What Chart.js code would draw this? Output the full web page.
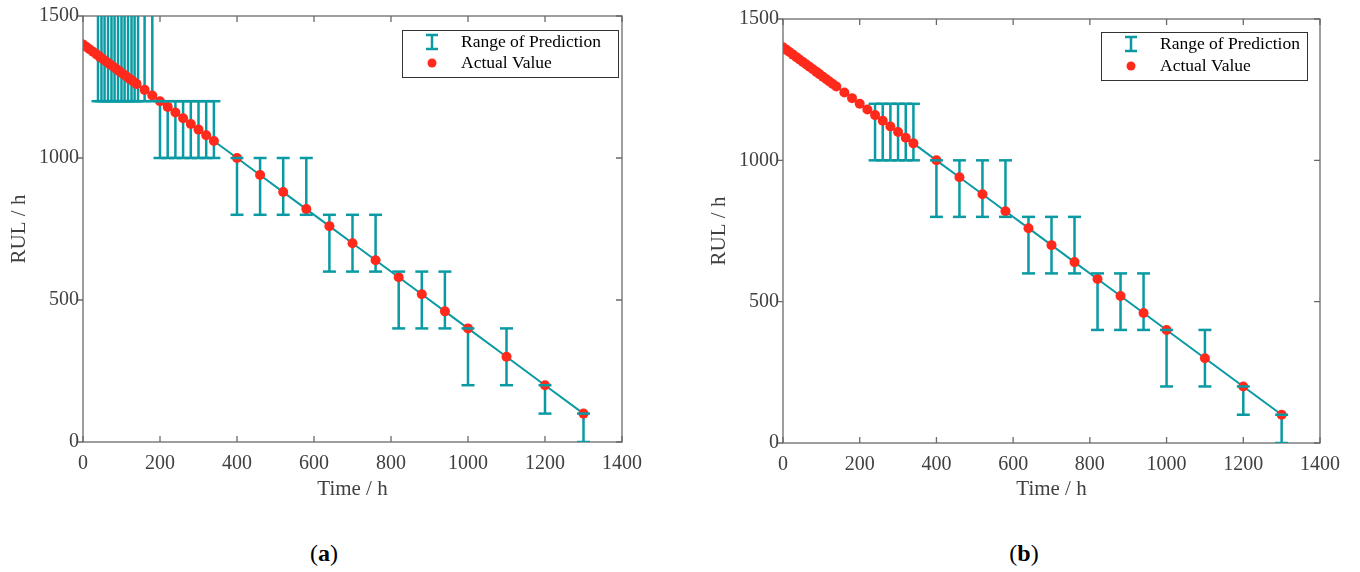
<!DOCTYPE html>
<html>
<head>
<meta charset="utf-8">
<script src="https://cdn.jsdelivr.net/npm/chart.js@4.4.1/dist/chart.umd.min.js"></script>
<style>
  body { margin: 0; background: #fff; width: 1360px; height: 572px; position: relative; overflow: hidden; font-family: "Liberation Serif", serif; }
  .box { position: absolute; top: 0; width: 680px; height: 520px; }
  .cap { position: absolute; top: 540px; width: 60px; text-align: center; font-size: 24px; color: #000; }
</style>
</head>
<body>
<div class="box" style="left:0"><canvas id="chartA" width="680" height="520"></canvas></div>
<div class="box" style="left:680px"><canvas id="chartB" width="680" height="520"></canvas></div>
<div class="cap" style="left:294px">(<b>a</b>)</div>
<div class="cap" style="left:994px">(<b>b</b>)</div>
<script>
// actual value: time (h) and RUL (h)
const timeH = [0, 9, 17, 26, 35, 43, 52, 61, 69, 78, 87, 95, 104, 113, 121, 130, 139,
  160, 180, 200, 220, 240, 260, 280, 300, 320, 340,
  400, 460, 520, 580, 640, 700, 760, 820, 880, 940, 1000, 1100, 1200, 1300];
const actualRul = [1400, 1391, 1383, 1374, 1365, 1357, 1348, 1339, 1331, 1322, 1313, 1305, 1296, 1287, 1279, 1270, 1261,
  1240, 1220, 1200, 1180, 1160, 1140, 1120, 1100, 1080, 1060,
  1000, 940, 880, 820, 760, 700, 640, 580, 520, 460, 400, 300, 200, 100];

// range of prediction, figure (a)
const rangeTimeA = [39, 48, 56, 65, 74, 82, 91, 100, 108, 117, 126, 134, 143, 160, 180,
  200, 220, 240, 260, 280, 300, 320, 340,
  400, 460, 520, 580, 640, 700, 760, 820, 880, 940, 1000, 1100, 1200, 1300];
const rangeLowA = [1200, 1200, 1200, 1200, 1200, 1200, 1200, 1200, 1200, 1200, 1200, 1200, 1200, 1200, 1200,
  1000, 1000, 1000, 1000, 1000, 1000, 1000, 1000,
  800, 800, 800, 800, 600, 600, 600, 400, 400, 400, 200, 200, 100, 0];
const rangeHighA = [1600, 1600, 1600, 1600, 1600, 1600, 1600, 1600, 1600, 1600, 1600, 1600, 1600, 1600, 1600,
  1200, 1200, 1200, 1200, 1200, 1200, 1200, 1200,
  1000, 1000, 1000, 1000, 800, 800, 800, 600, 600, 600, 400, 400, 200, 100];

// range of prediction, figure (b)
const rangeTimeB = [240, 260, 280, 300, 320, 340,
  400, 460, 520, 580, 640, 700, 760, 820, 880, 940, 1000, 1100, 1200, 1300];
const rangeLowB = [1000, 1000, 1000, 1000, 1000, 1000,
  800, 800, 800, 800, 600, 600, 600, 400, 400, 400, 200, 200, 100, 0];
const rangeHighB = [1200, 1200, 1200, 1200, 1200, 1200,
  1000, 1000, 1000, 1000, 800, 800, 800, 600, 600, 600, 400, 400, 200, 100];

const xTicks = [0, 200, 400, 600, 800, 1000, 1200, 1400];
const yTicks = [0, 500, 1000, 1500];
const legendLabels = ["Range of Prediction", "Actual Value"];

const teal = "#0a9aa4";
const red = "#ff2a1c";
const serif = "Liberation Serif";

// box with inward ticks (matlab look)
const frame = {
  id: "frame",
  beforeDatasetsDraw(chart) {
    const { ctx, chartArea: a, scales } = chart;
    const x = scales.x, y = scales.y;
    ctx.save();
    ctx.strokeStyle = "#6a6a6a";
    ctx.lineWidth = 1.3;
    ctx.strokeRect(a.left, a.top, a.right - a.left, a.bottom - a.top);
    ctx.beginPath();
    x.ticks.forEach(function (t) {
      const px = x.getPixelForValue(t.value);
      ctx.moveTo(px, a.bottom); ctx.lineTo(px, a.bottom - 6);
      ctx.moveTo(px, a.top); ctx.lineTo(px, a.top + 6);
    });
    y.ticks.forEach(function (t) {
      const py = y.getPixelForValue(t.value);
      ctx.moveTo(a.left - 5, py); ctx.lineTo(a.left, py);
      ctx.moveTo(a.right, py); ctx.lineTo(a.right - 6, py);
    });
    ctx.stroke();
    ctx.restore();
  }
};

const boxLegend = {
  id: "boxLegend",
  afterDraw(chart, args, o) {
    const ctx = chart.ctx;
    ctx.save();
    ctx.fillStyle = "#fff";
    ctx.fillRect(o.x, o.y, o.w, o.h);
    ctx.strokeStyle = "#333";
    ctx.lineWidth = 1;
    ctx.strokeRect(o.x + 0.5, o.y + 0.5, o.w, o.h);
    const cx = o.x + o.iconX, r1 = o.y + o.row1, r2 = o.y + o.row2;
    ctx.strokeStyle = teal;
    ctx.lineWidth = 2.5;
    ctx.beginPath();
    ctx.moveTo(cx, r1 - 7); ctx.lineTo(cx, r1 + 7);
    ctx.moveTo(cx - 6, r1 - 7); ctx.lineTo(cx + 6, r1 - 7);
    ctx.moveTo(cx - 6, r1 + 7); ctx.lineTo(cx + 6, r1 + 7);
    ctx.stroke();
    ctx.fillStyle = red;
    ctx.beginPath();
    ctx.arc(cx, r2, 4.5, 0, Math.PI * 2);
    ctx.fill();
    ctx.fillStyle = "#000";
    ctx.font = '17.5px "' + serif + '"';
    ctx.textBaseline = "middle";
    ctx.fillText(legendLabels[0], o.x + o.textX, r1);
    ctx.fillText(legendLabels[1], o.x + o.textX, r2);
    ctx.restore();
  }
};

function plain(v) { return String(v); }

function makeChart(id, rTime, rLow, rHigh, pad, xHeight, legendBox) {
  const points = timeH.map(function (t, i) { return { x: t, y: actualRul[i] }; });
  const bars = [];
  const caps = [];
  rTime.forEach(function (t, i) {
    bars.push({ x: t, y: rLow[i] }, { x: t, y: rHigh[i] }, { x: t, y: null });
    caps.push({ x: t, y: rLow[i] }, { x: t, y: rHigh[i] });
  });

  return new Chart(document.getElementById(id), {
    type: "scatter",
    data: {
      datasets: [
        {
          label: "caps",
          data: caps,
          pointStyle: "line",
          pointRadius: 6.5,
          pointBorderWidth: 2.5,
          pointBorderColor: teal,
          order: 0,
        },
        {
          label: legendLabels[1],
          data: points,
          pointRadius: 5,
          pointBackgroundColor: red,
          pointBorderWidth: 0,
          order: 1,
        },
        {
          type: "line",
          label: legendLabels[0],
          data: bars,
          borderColor: teal,
          borderWidth: 2.5,
          pointRadius: 0,
          spanGaps: false,
          clip: { left: 10, right: 10, top: 0, bottom: 10 },
          order: 2,
        },
        {
          type: "line",
          label: "trend",
          data: points,
          borderColor: teal,
          borderWidth: 2,
          pointRadius: 0,
          order: 3,
        },
      ],
    },
    options: {
      responsive: false,
      animation: false,
      layout: { padding: pad },
      plugins: {
        legend: { display: false },
        tooltip: { enabled: false },
        boxLegend: legendBox,
      },
      scales: {
        x: {
          type: "linear",
          min: 0,
          max: 1400,
          afterBuildTicks: function (s) { s.ticks = xTicks.map(function (v) { return { value: v }; }); },
          afterFit: function (s) { s.height = xHeight; },
          grid: { display: false, drawTicks: false },
          border: { display: false },
          ticks: { padding: 10, color: "#404040", maxRotation: 0, callback: plain, font: { family: serif, size: 20 } },
          title: { display: true, text: "Time / h", color: "#404040", font: { family: serif, size: 21 }, padding: { top: 0, bottom: 18 } },
        },
        y: {
          min: 0,
          max: 1500,
          afterBuildTicks: function (s) { s.ticks = yTicks.map(function (v) { return { value: v }; }); },
          afterFit: function (s) { s.width = 83; },
          grid: { display: false, drawTicks: false },
          border: { display: false },
          ticks: { padding: 4, color: "#404040", callback: plain, font: { family: serif, size: 20 } },
          title: { display: true, text: "RUL / h", color: "#404040", font: { family: serif, size: 21 }, padding: { top: 7, bottom: 0 } },
        },
      },
    },
    plugins: [frame, boxLegend],
  });
}

makeChart("chartA", rangeTimeA, rangeLowA, rangeHighA,
  { left: 0, right: 58, top: 16, bottom: 0 }, 78,
  { x: 402, y: 30, w: 216, h: 47, iconX: 30, textX: 59, row1: 12, row2: 33 });
makeChart("chartB", rangeTimeB, rangeLowB, rangeHighB,
  { left: 20, right: 40, top: 19, bottom: 0 }, 77,
  { x: 421, y: 32, w: 206, h: 48, iconX: 30, textX: 59, row1: 12, row2: 34 });
</script>
</body>
</html>
